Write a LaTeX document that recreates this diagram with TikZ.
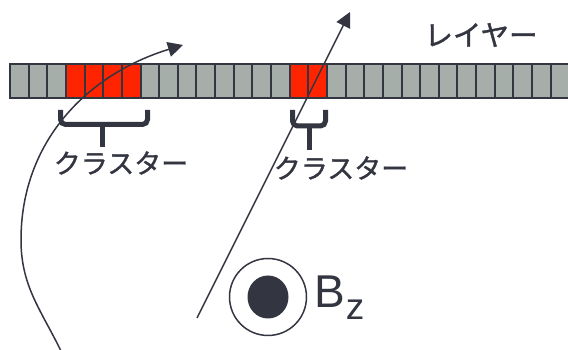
\documentclass[tikz,border=0pt]{standalone}
\usepackage{fontspec}
\setmainfont{Liberation Sans}
\newfontfamily\jpfont[FakeBold=1.2]{Noto Sans CJK JP}
\usetikzlibrary{arrows.meta,shapes.geometric}
\definecolor{darkc}{HTML}{333640}
\definecolor{cellgrey}{HTML}{A5AEA8}
\definecolor{cellred}{HTML}{FF2400}
\tikzset{
  cell/.style={draw=darkc, line width=2pt, minimum width=18.645pt, minimum height=34pt, inner sep=0pt, outer sep=0pt},
  track/.style={draw=darkc, line width=1.5pt, -{Triangle[length=15pt,width=15pt]}},
  brace/.style={draw=darkc, line width=5pt, rounded corners=5pt},
  jplabel/.style={font=\jpfont\fontsize{27}{30}\selectfont, text=darkc, inner sep=0pt}
}
\begin{document}
\begin{tikzpicture}[x=1pt,y=1pt]
\useasboundingbox (0,0) rectangle (568,350);
\clip (0,0) rectangle (568,350);
\fill[white] (0,0) rectangle (568,350);
% layer cells
\foreach \i in {0,...,30}{
  \def\fc{cellgrey}
  \ifnum\i>2 \ifnum\i<7 \def\fc{cellred}\fi\fi
  \ifnum\i>14 \ifnum\i<17 \def\fc{cellred}\fi\fi
  \node[cell, fill=\fc] (c\i) at ({10+18.645*(\i+0.5)}, 269.3) {};
}
\node[jplabel, font=\jpfont\fontsize{28.5}{30}\selectfont] (layer) at (481,315) {レイヤー};
% braces
\draw[brace] (60.5,240) -- (60.5,225.5) -- (147.5,225.5) -- (147.5,240);
\draw[draw=darkc, line width=5pt] (102,225.5) -- (102,203);
\draw[brace] (292.5,240) -- (292.5,224) -- (325.5,224) -- (325.5,240);
\draw[draw=darkc, line width=5pt] (309,224) -- (309,200);
\node[jplabel] (cl1) at (121,187) {クラスター};
\node[jplabel] (cl2) at (341,182) {クラスター};
% tracks
\coordinate (t1s) at (61,-1);
\coordinate (t1m) at (21,110);
\coordinate (t1e) at (183,305);
\draw[track] (t1s) to[out=116,in=-90] (t1m) to[out=90,in=197] (t1e);
\coordinate (t2s) at (197,32);
\coordinate (t2e) at (350,338);
\draw[track] (t2s) -- (t2e);
% magnetic field
\node[circle, draw=darkc, line width=1.5pt, minimum size=77pt, inner sep=0pt] (bo) at (268,53) {};
\node[ellipse, fill=darkc, minimum width=41pt, minimum height=43pt, inner sep=0pt] (bi) at (bo.center) {};
\node[anchor=base west, inner sep=0pt, text=darkc] (bz) at (314,42) {\fontsize{46}{46}\selectfont B\kern1pt\raisebox{-12pt}{\fontsize{37}{37}\selectfont z}};
\end{tikzpicture}
\end{document}
